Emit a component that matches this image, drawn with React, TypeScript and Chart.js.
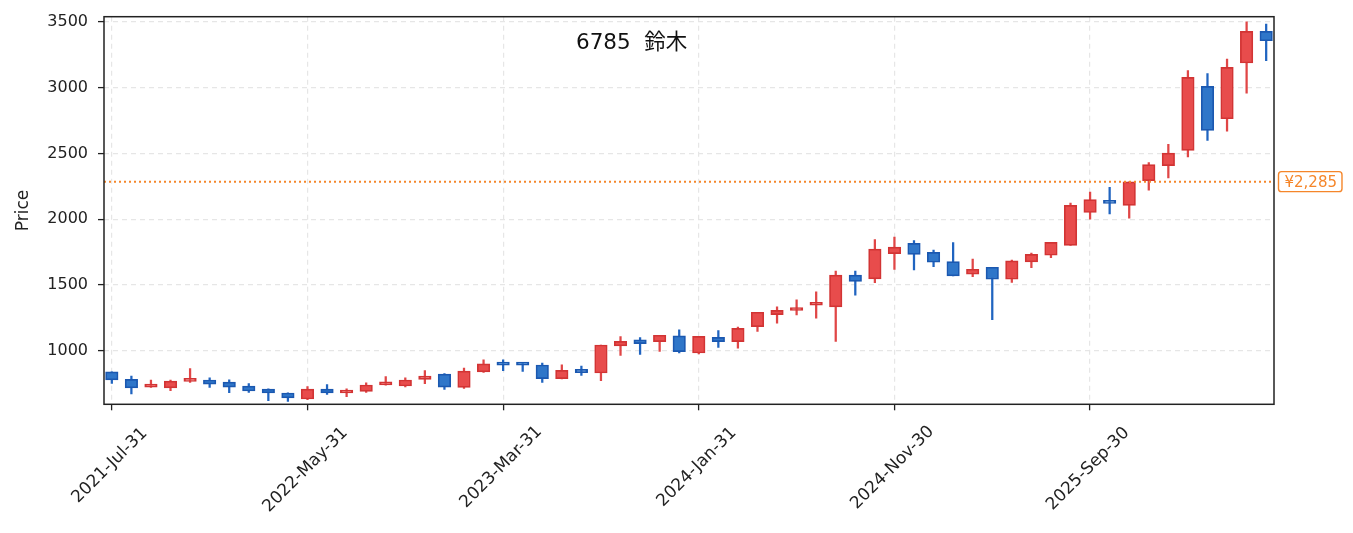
import { useEffect, useRef } from "react";
import { Chart, registerables } from "chart.js";

Chart.register(...registerables);

// monthly candles, 2021-07 .. 2026-06
const opens = [
  838, 781, 722, 716, 766, 777, 761, 731, 708, 678,
  632, 708, 678, 690, 740, 731, 781, 822, 720, 838,
  897, 897, 891, 787, 858, 830, 1036, 1082, 1069, 1112,
  982, 1101, 1069, 1183, 1274, 1305, 1345, 1333, 1574, 1546,
  1737, 1816, 1747, 1677, 1581, 1634, 1543, 1674, 1725, 1800,
  2050, 2128, 2104, 2293, 2407, 2523, 3010, 2763, 3187, 3427
];
const highs = [
  838, 807, 777, 777, 863, 794, 779, 749, 710, 680,
  726, 741, 710, 756, 802, 794, 848, 825, 868, 931,
  931, 906, 906, 893, 883, 1043, 1107, 1099, 1117, 1158,
  1109, 1152, 1180, 1292, 1333, 1386, 1447, 1604, 1604, 1844,
  1864, 1836, 1765, 1821, 1697, 1634, 1689, 1742, 1823, 2121,
  2205, 2242, 2283, 2429, 2568, 3129, 3106, 3217, 3500, 3482
];
const lows = [
  751, 670, 720, 695, 758, 720, 680, 683, 619, 614,
  628, 667, 650, 682, 738, 725, 749, 705, 713, 835,
  848, 842, 758, 785, 812, 771, 964, 972, 995, 982,
  975, 1025, 1018, 1147, 1208, 1272, 1246, 1071, 1421, 1516,
  1617, 1614, 1639, 1568, 1563, 1235, 1518, 1631, 1707, 1800,
  2000, 2040, 2008, 2220, 2313, 2472, 2598, 2669, 2957, 3204
];
const closes = [
  777, 716, 730, 769, 784, 746, 723, 693, 678, 640,
  708, 678, 700, 739, 746, 777, 807, 723, 845, 899,
  890, 890, 787, 850, 832, 1043, 1071, 1053, 1117, 992,
  1109, 1069, 1170, 1292, 1307, 1322, 1355, 1574, 1526, 1772,
  1787, 1732, 1672, 1568, 1619, 1543, 1682, 1732, 1823, 2104,
  2149, 2120, 2283, 2414, 2502, 3078, 2674, 3154, 3427, 3356
];

const xTickIndex = [0, 10, 20, 30, 40, 50];
const xTickLabels = ["2021-Jul-31", "2022-May-31", "2023-Mar-31", "2024-Jan-31", "2024-Nov-30", "2025-Sep-30"];
const yTicks = [1000, 1500, 2000, 2500, 3000, 3500];

const chartTitle = "6785  鈴木";
const currentPrice = 2285;

const FONT = "'DejaVu Sans', 'Noto Sans CJK JP', sans-serif";
const UP_FILL = "#e84c4c";
const UP_EDGE = "#d23434";
const DOWN_FILL = "#2f76c9";
const DOWN_EDGE = "#1b58b0";
const PRICE_COLOR = "#f5862a";
const GRID_COLOR = "#e6e6e6";

const overlay = {
  id: "overlay",
  afterDraw(chart: Chart) {
    const { ctx, chartArea } = chart;
    const xs = chart.scales.x;
    const ys = chart.scales.y;
    ctx.save();

    // current price line
    const py = ys.getPixelForValue(currentPrice);
    ctx.strokeStyle = PRICE_COLOR;
    ctx.lineWidth = 2;
    ctx.setLineDash([2, 3]);
    ctx.beginPath();
    ctx.moveTo(chartArea.left, py);
    ctx.lineTo(chartArea.right, py);
    ctx.stroke();
    ctx.setLineDash([]);

    // frame
    ctx.strokeStyle = "#222";
    ctx.lineWidth = 1.5;
    ctx.strokeRect(chartArea.left, chartArea.top, chartArea.right - chartArea.left, chartArea.bottom - chartArea.top);

    // price tag
    const tag = "¥" + currentPrice.toLocaleString("en-US");
    ctx.font = `15px ${FONT}`;
    const tw = ctx.measureText(tag).width;
    const bx = chartArea.right + 4.5;
    const bw = tw + 11;
    const bh = 20;
    ctx.fillStyle = "#fff";
    ctx.strokeStyle = PRICE_COLOR;
    ctx.lineWidth = 1.4;
    ctx.beginPath();
    ctx.roundRect(bx, py - bh / 2, bw, bh, 3);
    ctx.fill();
    ctx.stroke();
    ctx.fillStyle = PRICE_COLOR;
    ctx.textAlign = "left";
    ctx.textBaseline = "middle";
    ctx.fillText(tag, bx + 6, py + 1);

    // title
    ctx.fillStyle = "#111";
    ctx.font = `21.5px ${FONT}`;
    ctx.textBaseline = "alphabetic";
    ctx.fillText(chartTitle, chartArea.left + (chartArea.right - chartArea.left) * 0.4034, 48.5);

    // rotated date labels, centred under their ticks
    ctx.font = `17px ${FONT}`;
    ctx.fillStyle = "#222";
    ctx.textAlign = "center";
    ctx.textBaseline = "middle";
    xTickIndex.forEach((idx, i) => {
      const label = xTickLabels[i];
      const m = ctx.measureText(label);
      const h = m.actualBoundingBoxAscent + m.actualBoundingBoxDescent;
      const side = (m.width + h) * Math.SQRT1_2;
      const cx = xs.getPixelForValue(idx) - 2;
      const cy = chartArea.bottom + 20 + side / 2;
      ctx.save();
      ctx.translate(cx, cy);
      ctx.rotate(-Math.PI / 4);
      ctx.fillText(label, 0, 0);
      ctx.restore();
    });

    ctx.restore();
  }
};

export default function App() {
  const canvasRef = useRef<HTMLCanvasElement | null>(null);
  const chartRef = useRef<Chart | null>(null);

  useEffect(() => {
    if (!canvasRef.current) return;
    if (chartRef.current) chartRef.current.destroy();

    const up = closes.map((c, i) => c >= opens[i]);
    const bodies = opens.map((o, i) => ({ x: i, y: [Math.min(o, closes[i]), Math.max(o, closes[i])] }));
    const wicks = lows.map((l, i) => ({ x: i, y: [l, highs[i]] }));

    chartRef.current = new Chart(canvasRef.current, {
      type: "bar",
      data: {
        datasets: [
          {
            label: "body",
            data: bodies as any,
            backgroundColor: up.map((u) => (u ? UP_FILL : DOWN_FILL)),
            borderColor: up.map((u) => (u ? UP_EDGE : DOWN_EDGE)),
            borderWidth: 1.7,
            borderSkipped: false,
            barThickness: 12.5,
            minBarLength: 3,
            grouped: false,
            order: 0
          },
          {
            label: "wick",
            data: wicks as any,
            backgroundColor: up.map((u) => (u ? "#e04646" : "#2064c0")),
            borderWidth: 0,
            barThickness: 1.6,
            grouped: false,
            order: 1
          }
        ]
      },
      options: {
        responsive: true,
        maintainAspectRatio: false,
        animation: false,
        layout: { padding: { left: 0, right: 79, top: 16.7, bottom: 0 } },
        plugins: {
          legend: { display: false },
          tooltip: { enabled: false }
        },
        scales: {
          x: {
            type: "linear",
            min: -0.4,
            max: 59.4,
            offset: false,
            afterBuildTicks: (s: any) => {
              s.ticks = xTickIndex.map((v) => ({ value: v }));
            },
            afterFit: (s: any) => {
              s.height = 128.7;
              s.paddingLeft = 0;
              s.paddingRight = 0;
            },
            ticks: { display: false },
            border: { display: false, dash: [5, 4] },
            grid: {
              offset: false,
              color: GRID_COLOR,
              lineWidth: 1.2,
              tickLength: 6,
              tickColor: "#222",
              tickWidth: 1.3,
              tickBorderDash: []
            }
          },
          y: {
            min: 592,
            max: 3539,
            afterBuildTicks: (s: any) => {
              s.ticks = yTicks.map((v) => ({ value: v }));
            },
            afterFit: (s: any) => {
              s.width = 104;
              s.paddingTop = 0;
              s.paddingBottom = 0;
            },
            title: {
              display: true,
              text: "Price",
              color: "#222",
              font: { family: FONT, size: 17 },
              padding: { top: 13 }
            },
            ticks: {
              color: "#222",
              font: { family: FONT, size: 16 },
              padding: 10,
              callback: (v: any) => String(v)
            },
            border: { display: false, dash: [5, 4] },
            grid: {
              color: GRID_COLOR,
              lineWidth: 1.2,
              tickLength: 6,
              tickColor: "#222",
              tickWidth: 1.3,
              tickBorderDash: []
            }
          }
        }
      },
      plugins: [overlay]
    });

    return () => {
      if (chartRef.current) {
        chartRef.current.destroy();
        chartRef.current = null;
      }
    };
  }, []);

  return (
    <div style={{ position: "fixed", left: 0, top: 0, width: 1353, height: 533, background: "#fff" }}>
      <canvas ref={canvasRef} />
    </div>
  );
}
